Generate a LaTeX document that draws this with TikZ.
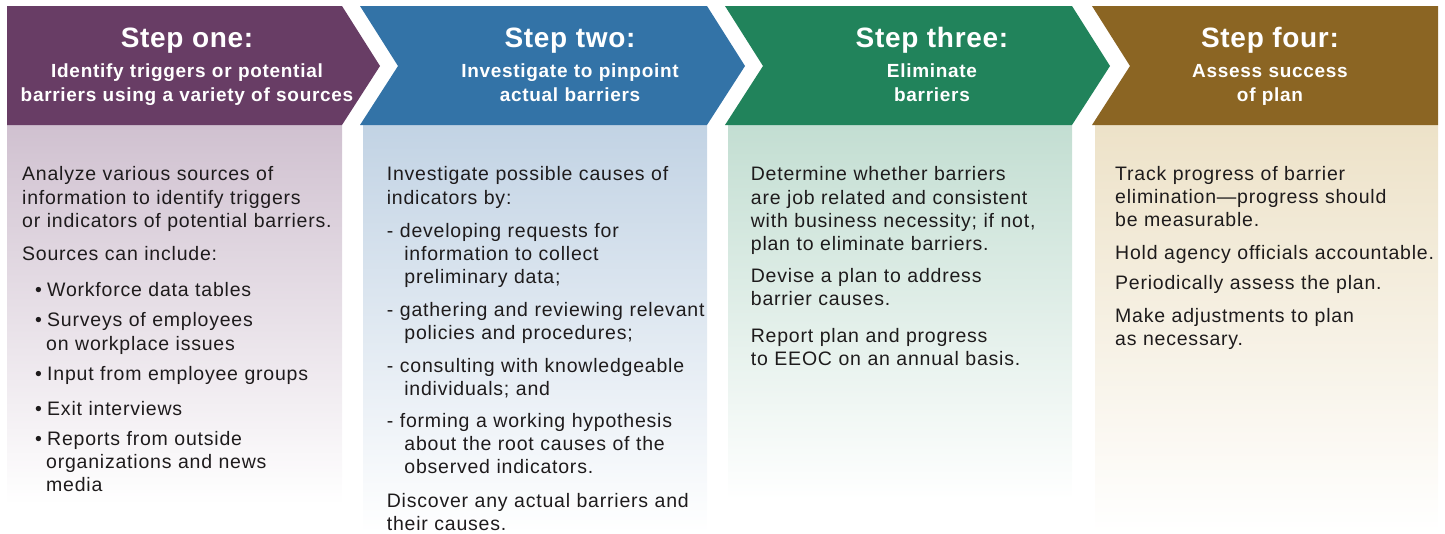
\documentclass[tikz,border=0pt]{standalone}
\usepackage{fontspec}
\setmainfont{Liberation Sans}[LetterSpace=4]
\newfontfamily\headfont{Liberation Sans}[LetterSpace=3.7]
\newfontfamily\titlefont{Liberation Sans}[LetterSpace=2.5]
\usepackage{tikz}
\usetikzlibrary{positioning}

\definecolor{onehead}{RGB}{104,61,101}
\definecolor{twohead}{RGB}{51,115,167}
\definecolor{threehead}{RGB}{33,131,91}
\definecolor{fourhead}{RGB}{139,101,35}
\definecolor{onebody}{RGB}{208,193,208}
\definecolor{twobody}{RGB}{194,211,228}
\definecolor{threebody}{RGB}{195,222,210}
\definecolor{fourbody}{RGB}{237,226,200}
\definecolor{bodyink}{RGB}{30,27,28}

\newcommand{\bitem}[1]{\hspace*{13pt}\makebox[12pt][l]{\textbullet}#1}
\newcommand{\bcont}{\hspace*{24pt}}
\newcommand{\dcont}{\hspace*{17.5pt}}

\begin{document}
\begin{tikzpicture}[x=1pt, y=-1pt,
            steptitle/.style={text=white, inner sep=0pt, anchor=base,
                font=\titlefont\bfseries\fontsize{28}{30}\selectfont},
            stepsub/.style={text=white, inner sep=0pt, anchor=base,
                text width=345pt, align=center,
                font=\headfont\bfseries\fontsize{19}{24.5}\selectfont},
            bodytext/.style={text=bodyink, inner sep=0pt, anchor=base west,
                text width=345pt, align=left,
                font=\fontsize{19.5}{23.3}\selectfont},
        ]

            \useasboundingbox (0,0) rectangle (1445,533);

            \shade[top color=onebody, bottom color=white]   (7,125)    rectangle (342,505);
            \shade[top color=twobody, bottom color=white]   (363,125)  rectangle (707,533);
            \shade[top color=threebody, bottom color=white] (728,125)  rectangle (1072,500);
            \shade[top color=fourbody, bottom color=white]  (1095,125) rectangle (1438,533);

            \fill[onehead]   (7,6) -- (342,6) -- (380,66) -- (342,125) -- (7,125) -- cycle;
            \fill[twohead]   (360,6) -- (707,6) -- (745,66) -- (707,125) -- (360,125) -- (398,66) -- cycle;
            \fill[threehead] (725,6) -- (1072,6) -- (1110,66) -- (1072,125) -- (725,125) -- (763,66) -- cycle;
            \fill[fourhead]  (1092,6) -- (1438,6) -- (1438,125) -- (1092,125) -- (1130,66) -- cycle;

            \node [steptitle] (title1) at (187,47)  {Step one:};
            \node [stepsub]   (sub1)   at (187,77)  {Identify triggers or potential\\ barriers using a variety of sources};

            \node [steptitle] (title2) at (570,47)  {Step two:};
            \node [stepsub]   (sub2)   at (570,77)  {Investigate to pinpoint\\ actual barriers};

            \node [steptitle] (title3) at (932,47)  {Step three:};
            \node [stepsub]   (sub3)   at (932,77)  {Eliminate\\ barriers};

            \node [steptitle] (title4) at (1270,47) {Step four:};
            \node [stepsub]   (sub4)   at (1270,77) {Assess success\\ of plan};

            \node [bodytext] (body1) at (22,180.7) {Analyze various sources of\\
                information to identify triggers\\
                or indicators of potential barriers.\\[9.4pt]
                Sources can include:\\[13.4pt]
                \bitem{Workforce data tables}\\[6.7pt]
                \bitem{Surveys of employees}\\
                \bcont on workplace issues\\[6.7pt]
                \bitem{Input from employee groups}\\[11.7pt]
                \bitem{Exit interviews}\\[6.7pt]
                \bitem{Reports from outside}\\
                \bcont organizations and news\\
                \bcont media};

            \node [bodytext] (body2) at (386.7,180.7) {Investigate possible causes of\\
                indicators by:\\[10pt]
                - developing requests for\\
                \dcont information to collect\\
                \dcont preliminary data;\\[9.1pt]
                - gathering and reviewing relevant\\
                \dcont policies and procedures;\\[9.4pt]
                - consulting with knowledgeable\\
                \dcont individuals; and\\[8.4pt]
                - forming a working hypothesis\\
                \dcont about the root causes of the\\
                \dcont observed indicators.\\[10pt]
                Discover any actual barriers and\\
                their causes.};

            \node [bodytext] (body3) at (750.7,180.7) {Determine whether barriers\\
                are job related and consistent\\
                with business necessity; if not,\\
                plan to eliminate barriers.\\[8.4pt]
                Devise a plan to address\\
                barrier causes.\\[13.4pt]
                Report plan and progress\\
                to EEOC on an annual basis.};

            \node [bodytext] (body4) at (1115,180) {Track progress of barrier\\
                elimination—progress should\\
                be measurable.\\[9.4pt]
                Hold agency officials accountable.\\[6.7pt]
                Periodically assess the plan.\\[9.4pt]
                Make adjustments to plan\\
                as necessary.};

        \end{tikzpicture}
\end{document}
